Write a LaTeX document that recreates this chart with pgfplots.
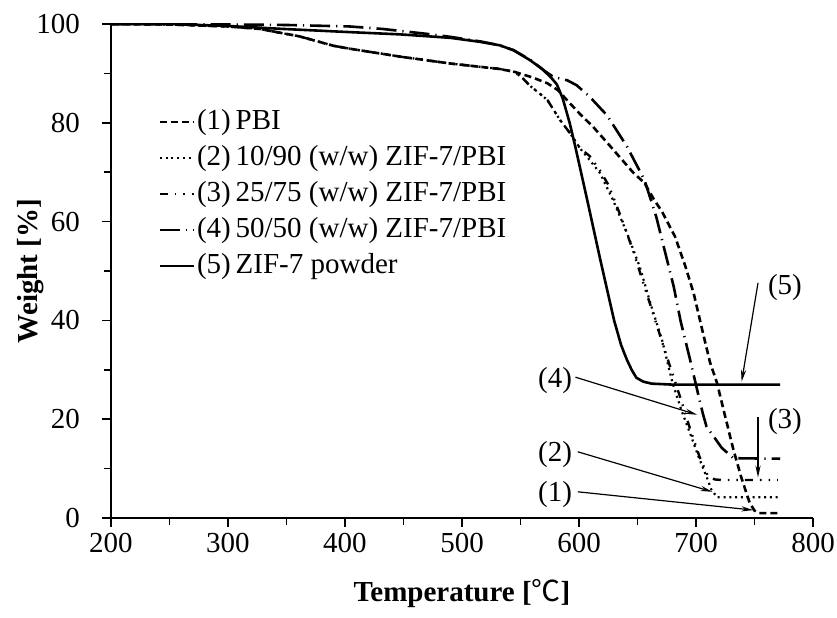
\documentclass[border=0pt]{standalone}
\usepackage{fontspec}
\setmainfont{Liberation Serif}
\newfontfamily\cjk{Noto Sans CJK SC}
\usepackage{pgfplots}
\pgfplotsset{compat=1.18}
\usetikzlibrary{arrows.meta}
\begin{document}
\fontsize{14.5bp}{17bp}\selectfont
\begin{tikzpicture}
\useasboundingbox (-55.5bp,-50bp) rectangle (363bp,259bp);
\begin{axis}[
  at={(0,0)}, anchor=south west,
  scale only axis, width=351bp, height=247bp,
  xmin=200, xmax=800, ymin=0, ymax=100,
  axis x line=bottom, axis y line=left,
  axis line style={-, line width=0.9bp},
  xtick={200,300,...,800}, minor xtick={250,350,...,750},
  ytick={0,20,...,100}, minor ytick={10,30,...,90},
  tick align=outside,
  major tick length=4.5bp, minor tick length=3.5bp,
  every tick/.style={black, line width=0.8bp},
  /pgf/number format/assume math mode=true,
  tick label style={font=\fontsize{14.5bp}{17bp}\selectfont},
  yticklabel style={xshift=-6bp},
  xticklabel style={yshift=2bp},
  label style={font=\fontsize{14.5bp}{17bp}\selectfont},
  xlabel={\textbf{Temperature [{\cjk\mdseries ℃}]}},
  xlabel style={yshift=-3.5bp},
  ylabel={\textbf{Weight [\%]}},
  ylabel style={at={(rel axis cs:-0.114,0.5)}, anchor=center},
  legend cell align=left,
  legend style={at={(rel axis cs:0.067,0.838)}, anchor=north west,
    draw=none, fill=none, inner sep=0pt,
    font=\fontsize{14.5bp}{17bp}\selectfont,
    row sep=0.5bp,
    nodes={inner xsep=1bp, inner ysep=2bp, text height=10.5bp, text depth=3bp}},
]
\addplot[black, line width=1.3bp, dash pattern=on 3.5bp off 2bp] coordinates {
(200,100)(250,99.9)(300,99.5)(327,99)(361,97.5)(390,95.6)(404,95)(447,93.4)(490,92)(532,90.9)(545,90.3)(560,89.2)(573,88)(582,86.6)(592,84)(602,81.5)(612,79.2)(624,76)(635,73)(646,70)(656,67.8)(664,64.5)(671,62)(682,57)(691,50.9)(698,45.5)(706,37.4)(712,31.5)(718,27.3)(725,20.5)(732,13.8)(739,8)(746,3)(750,1.5)(754,1)(772,1)};
\addlegendentry{(1)\,PBI}
\addplot[black, line width=1.1bp, dash pattern=on 1bp off 1.9bp] coordinates {
(200,100)(250,99.9)(300,99.5)(327,99)(361,97.5)(390,95.6)(404,95)(447,93.4)(490,92)(532,90.9)(545,90.3)(552,89)(558,87.5)(566,86)(573,84.6)(584,80.5)(592,78)(601,74.8)(609,72.5)(618,69.8)(629,64.4)(641,57.7)(652,50.8)(661,43.5)(671,36)(680,27.3)(688,21.5)(695,17.1)(702,12.5)(709,8.4)(713,5.8)(718,4.2)(772,4.2)};
\addlegendentry{(2)\,10/90 (w/w) ZIF-7/PBI}
\addplot[black, line width=1.2bp, dash pattern=on 4bp off 3.5bp on 0.8bp off 3.5bp on 0.8bp off 3.5bp] coordinates {
(200,100)(250,99.9)(300,99.5)(327,99)(361,97.5)(390,95.6)(404,95)(447,93.4)(490,92)(532,90.9)(545,90.3)(552,89)(558,87.5)(566,86)(573,84.6)(584,80.5)(592,78)(601,74.8)(609,73.3)(618,70.3)(625,67.5)(635,61.5)(646,54.3)(656,46.8)(666,39.4)(676,32)(686,24.8)(695,18)(703,12.4)(710,8.6)(716,7.8)(722,7.7)(770,7.7)};
\addlegendentry{(3)\,25/75 (w/w) ZIF-7/PBI}
\addplot[black, line width=1.3bp, dash pattern=on 10bp off 3bp on 0.6bp off 3bp] coordinates {
(200,100)(250,100)(300,99.9)(350,99.8)(404,99.5)(432,99)(470,98)(490,97.4)(515,96.5)(532,95.7)(544,94.7)(558,92.8)(570,90.6)(578,89.3)(590,88.6)(598,87.6)(609,85.3)(624,81.5)(641,75.2)(656,68.4)(666,61)(673.5,53.9)(681,46.8)(687,39.7)(695,32)(703,23.9)(706,21)(709,18.5)(716,16.2)(722,14.2)(732,12.1)(772,12)};
\addlegendentry{(4)\,50/50 (w/w) ZIF-7/PBI}
\addplot[black, line width=1.3bp] coordinates {
(200,100)(250,100)(300,99.6)(347,99)(400,98.4)(447,97.9)(490,97.2)(515,96.4)(532,95.7)(544,94.7)(558,92.7)(568,91)(576,89.2)(581,87.8)(586,85)(592,80)(597,75)(607,64.4)(618,52.5)(630,40)(636,35)(641,32)(645,30)(649,28.4)(655,27.6)(662,27.2)(680,27)(772,27)};
\addlegendentry{(5)\,ZIF-7 powder}
\tikzset{ann/.style={black, line width=0.6bp, -{Stealth[length=6bp,width=2.6bp]}}}
\node at (axis cs:776,46.6) {(5)};
\draw[ann] (axis cs:753,47.6) -- (axis cs:739,27.6);
\node at (axis cs:776,19.6) {(3)};
\draw[ann] (axis cs:753,20.4) -- (axis cs:753,8.2);
\node at (axis cs:579.5,27.9) {(4)};
\draw[ann] (axis cs:597,28.5) -- (axis cs:701,20.9);
\node at (axis cs:579.5,12.8) {(2)};
\draw[ann] (axis cs:599,13.4) -- (axis cs:714,5.3);
\node at (axis cs:579.5,4.7) {(1)};
\draw[ann] (axis cs:599,5.3) -- (axis cs:749,1.6);
\end{axis}
\end{tikzpicture}
\end{document}
